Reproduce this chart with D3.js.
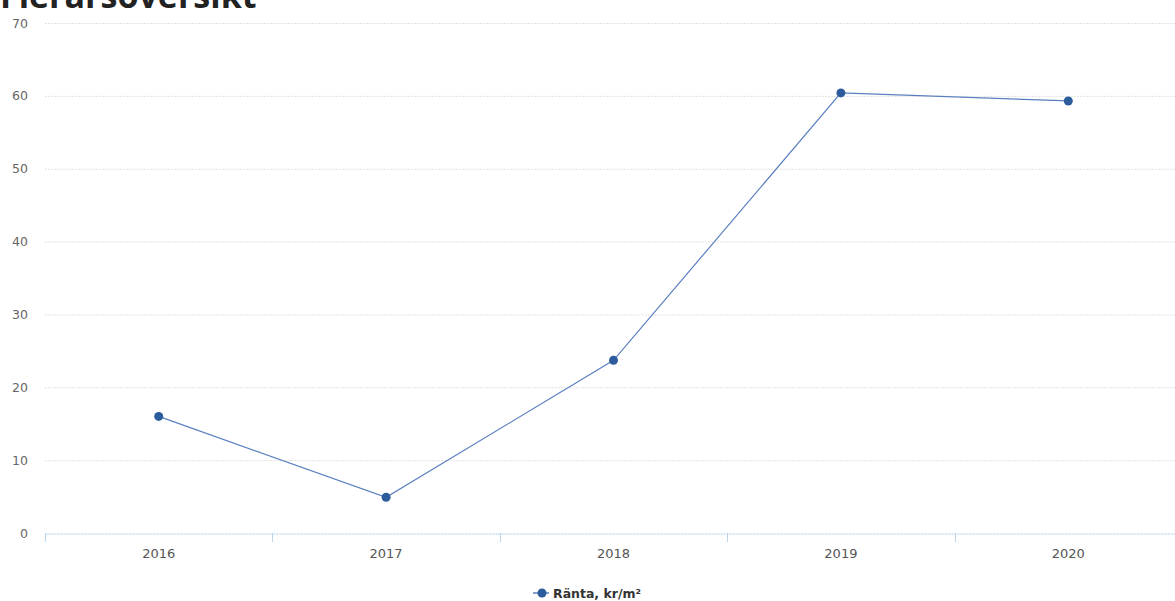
<!DOCTYPE html>
<html>
<head>
<meta charset="utf-8">
<script src="https://cdn.jsdelivr.net/npm/d3@7"></script>
<style>
  body { margin: 0; background: #fff; }
  svg { display: block; }
</style>
</head>
<body>
<svg id="chart" width="1175" height="601"></svg>
<script>
// chart data
var years = ['2016', '2017', '2018', '2019', '2020'];
var ranta = [16.0, 4.9, 23.7, 60.4, 59.3];
var yTicks = [0, 10, 20, 30, 40, 50, 60, 70];
var seriesName = 'Ränta, kr/m²';
var title = 'Flerårsöversikt';

var svg = d3.select('#chart');

// title, cut off by the top edge like the original screenshot
svg.append('text')
  .attr('x', 0)
  .attr('y', 8)
  .attr('font-family', 'Open Sans, sans-serif')
  .attr('font-weight', 'bold')
  .attr('font-size', 34)
  .attr('fill', '#222')
  .text(title);

var x = d3.scaleBand().domain(years).range([45, 1182]);
var y = d3.scaleLinear().domain([0, 70]).range([533, 23]);

// grid
svg.append('g').selectAll('line')
  .data(yTicks.filter(function(d) { return d > 0; }))
  .enter().append('line')
  .attr('x1', 45).attr('x2', 1175)
  .attr('y1', function(d) { return y(d) + 0.5; })
  .attr('y2', function(d) { return y(d) + 0.5; })
  .attr('stroke', '#e2e2e2')
  .attr('stroke-dasharray', '2,1');

// y labels
svg.append('g').selectAll('text')
  .data(yTicks)
  .enter().append('text')
  .attr('x', 28)
  .attr('y', function(d) { return y(d) + 4.5; })
  .attr('text-anchor', 'end')
  .attr('font-family', 'DejaVu Sans, sans-serif')
  .attr('font-size', 12.5)
  .attr('fill', '#666')
  .text(function(d) { return d; });

// x axis
var xAxis = svg.append('g').attr('transform', 'translate(0,533.5)')
  .call(d3.axisBottom(x).tickSize(0).tickPadding(15));
xAxis.select('.domain').attr('stroke', '#a8cbe8').attr('stroke-dasharray', '2,1');
xAxis.selectAll('text')
  .attr('font-family', 'DejaVu Sans, sans-serif')
  .attr('font-size', 13)
  .attr('fill', '#555');

// tick marks at band edges
svg.append('g').selectAll('line')
  .data(years)
  .enter().append('line')
  .attr('x1', function(d) { return Math.round(x(d)) + 0.5; })
  .attr('x2', function(d) { return Math.round(x(d)) + 0.5; })
  .attr('y1', 533).attr('y2', 542)
  .attr('stroke', '#b8d3ea');

// line
var cx = function(d, i) { return x(years[i]) + x.bandwidth() / 2; };
var line = d3.line()
  .x(cx)
  .y(function(d) { return y(d); });

svg.append('path')
  .datum(ranta)
  .attr('d', line)
  .attr('fill', 'none')
  .attr('stroke', '#5a7fc0')
  .attr('stroke-width', 1.2);

svg.append('g').selectAll('circle')
  .data(ranta)
  .enter().append('circle')
  .attr('cx', cx)
  .attr('cy', function(d) { return y(d); })
  .attr('r', 4.5)
  .attr('fill', '#2d5c9c');

// legend
var legend = svg.append('g').attr('transform', 'translate(533,593)');
legend.append('line')
  .attr('x1', 0).attr('x2', 16)
  .attr('stroke', '#5a7fc0').attr('stroke-width', 1.5);
legend.append('circle')
  .attr('cx', 9).attr('r', 4.5).attr('fill', '#2d5c9c');
legend.append('text')
  .attr('x', 20).attr('y', 4.5)
  .attr('font-family', 'DejaVu Sans, sans-serif')
  .attr('font-weight', 'bold')
  .attr('font-size', 12.5)
  .attr('fill', '#333')
  .text(seriesName);
</script>
</body>
</html>
